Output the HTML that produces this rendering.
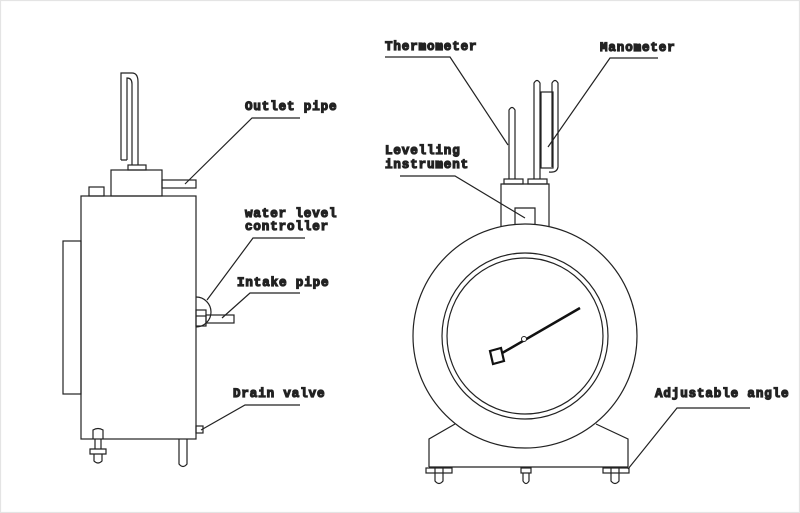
<!DOCTYPE html>
<html><head><style>
body{margin:0;background:#fff}
svg{display:block}
text{font-family:"Liberation Mono",monospace;font-size:12.5px;font-weight:bold;letter-spacing:0.9px;fill:#222}
</style></head><body>
<svg width="800" height="513" viewBox="0 0 800 513" fill="none" stroke="#222" stroke-width="1.2">
<rect x="0.5" y="0.5" width="799" height="512" stroke="#e4e4e4"/>
<!-- left device -->
<rect x="81" y="196" width="115" height="243"/>
<rect x="63" y="241" width="18" height="153"/>
<rect x="111" y="170" width="51" height="26"/>
<rect x="89" y="187" width="15" height="9"/>
<rect x="162" y="180" width="34" height="8"/>
<rect x="128" y="165" width="18" height="5"/>
<path d="M121 160 V73 H132 Q138 73 138 82 V165 M132 165 V84 Q132 78 127 78 V160 M121 160 H127"/>
<path d="M196 297 A15 15 0 0 1 196 327"/>
<rect x="196" y="310" width="10" height="16"/>
<line x1="196" y1="316" x2="206" y2="316"/>
<rect x="206" y="315" width="28" height="8"/>
<rect x="196" y="426" width="7" height="7"/>
<path d="M93 439 V430 Q98 427 103 430 V439 M95 439 V449 M101 439 V449 M90 449 H106 V454 H90 Z M94 454 V461 Q98 465 102 461 V454"/>
<path d="M179 439 V464 Q183 469 187 464 V439"/>
<!-- leaders left -->
<path d="M300 118 H252 L185 184"/>
<path d="M305 238 H253 L207 300"/>
<path d="M300 293 H250 L222 318"/>
<path d="M300 405 H245 L201 430"/>
<text x="245" y="110">Outlet pipe</text>
<text x="245" y="217">water level</text>
<text x="245" y="230">controller</text>
<text x="237" y="286">Intake pipe</text>
<text x="233" y="397">Drain valve</text>
<!-- right device -->
<path d="M429 467 V439 L455 424 M628 467 V439 L596 424 M429 467 H628"/>
<path d="M501 235 V184 H549 V235"/>
<circle cx="525" cy="336" r="112" fill="#fff"/>
<circle cx="525" cy="336" r="83"/>
<circle cx="525" cy="336" r="78"/>
<path d="M515 224.5 V208 H535 V224.5"/>
<rect x="504" y="179" width="19" height="5"/>
<rect x="528" y="179" width="19" height="5"/>
<path d="M509 179 V110 Q512 105 515 110 V179"/>
<path d="M534 179 V83 Q537 78 540 83 V179 M552 167 V83 Q555 78 558 83 V167 Q557 173 549 172"/>
<rect x="541" y="92" width="12" height="76"/>
<line x1="497" y1="356" x2="580" y2="308" stroke="#111" stroke-width="2.5"/>
<circle cx="524" cy="339" r="2.5" fill="#fff" stroke-width="1"/>
<path d="M490 351 L501 348 L504 361 L493 364 Z" fill="#fff" stroke="#111" stroke-width="2.2"/>
<!-- feet -->
<rect x="426" y="468" width="26" height="5"/><path d="M435 468 V481 Q439 486 443 481 V468"/>
<rect x="521" y="468" width="10" height="5"/><path d="M523 473 V481 Q526 486 529 481 V473"/>
<rect x="603" y="468" width="26" height="5"/><path d="M611 468 V481 Q615 486 619 481 V468"/>
<!-- leaders right -->
<path d="M385 57 H450 L508 145"/>
<path d="M658 58 H610 L548 147"/>
<path d="M400 176 H455 L525 218"/>
<path d="M750 408 H677 L628 469"/>
<text x="385" y="50">Thermometer</text>
<text x="600" y="51">Manometer</text>
<text x="385" y="154">Levelling</text>
<text x="385" y="168">instrument</text>
<text x="655" y="397">Adjustable angle</text>
</svg>
</body></html>
